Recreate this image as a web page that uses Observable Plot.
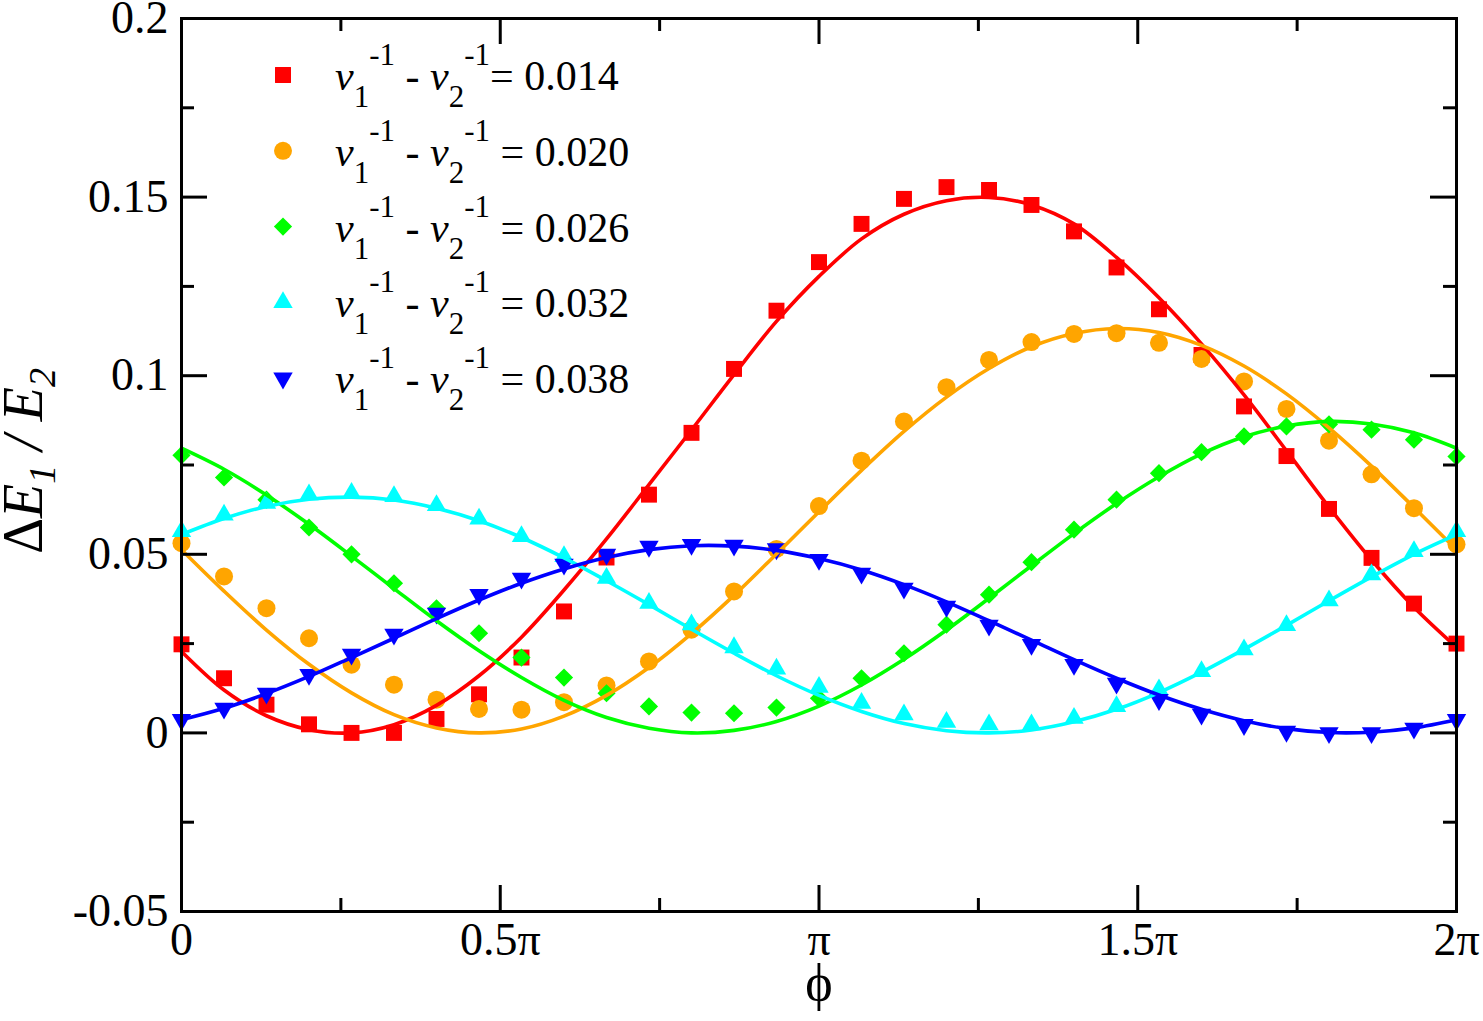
<!DOCTYPE html>
<html><head><meta charset="utf-8">
<script src="https://cdn.jsdelivr.net/npm/d3@7"></script>
<script src="https://cdn.jsdelivr.net/npm/@observablehq/plot@0.6"></script>
<style>
html,body{margin:0;padding:0;background:#fff;}
#chart svg{display:block;}
</style></head><body><div id="chart"></div>
<script>
// phi in units of pi
const phiOverPi = [0, 0.0667, 0.1333, 0.2, 0.2667, 0.3333, 0.4, 0.4667, 0.5333, 0.6, 0.6667, 0.7333, 0.8, 0.8667, 0.9333, 1, 1.0667, 1.1333, 1.2, 1.2667, 1.3333, 1.4, 1.4667, 1.5333, 1.6, 1.6667, 1.7333, 1.8, 1.8667, 1.9333, 2];

const seriesNames = ["0.014", "0.020", "0.026", "0.032", "0.038"];
const seriesColors = ["#ff0000", "#ffa500", "#00ff00", "#00ffff", "#0000ff"];

// simulation points
const pts014 = [0.0248,0.0153,0.0079,0.0024,0.0000,0.0000,0.0039,0.0108,0.0211,0.0340,0.0491,0.0667,0.0840,0.1019,0.1182,0.1318,0.1425,0.1495,0.1528,0.1520,0.1478,0.1404,0.1303,0.1186,0.1058,0.0914,0.0775,0.0627,0.0490,0.0362,0.0250];
const pts020 = [0.0531,0.0438,0.0349,0.0265,0.0191,0.0135,0.0093,0.0067,0.0065,0.0086,0.0133,0.0200,0.0289,0.0396,0.0515,0.0635,0.0762,0.0872,0.0968,0.1044,0.1094,0.1117,0.1119,0.1092,0.1047,0.0984,0.0907,0.0818,0.0724,0.0629,0.0528];
const pts026 = [0.0777,0.0715,0.0653,0.0575,0.0500,0.0419,0.0349,0.0279,0.0211,0.0155,0.0111,0.0074,0.0057,0.0055,0.0071,0.0097,0.0153,0.0223,0.0303,0.0387,0.0478,0.0569,0.0653,0.0727,0.0786,0.0830,0.0858,0.0864,0.0849,0.0821,0.0774];
const pts032 = [0.0564,0.0610,0.0643,0.0667,0.0671,0.0662,0.0637,0.0599,0.0550,0.0494,0.0433,0.0363,0.0303,0.0239,0.0179,0.0128,0.0083,0.0051,0.0030,0.0023,0.0023,0.0041,0.0074,0.0121,0.0172,0.0233,0.0301,0.0370,0.0443,0.0508,0.0564];
const pts038 = [0.0037,0.0069,0.0111,0.0163,0.0220,0.0276,0.0335,0.0387,0.0433,0.0472,0.0500,0.0522,0.0527,0.0525,0.0515,0.0485,0.0447,0.0405,0.0354,0.0301,0.0247,0.0191,0.0139,0.0093,0.0052,0.0023,0.0004,0.0000,0.0000,0.0013,0.0037];

// fitted curves (read at the same phi grid)
const fit014 = [0.0228,0.0120,0.0048,0.0009,0.0000,0.0023,0.0077,0.0160,0.0268,0.0400,0.0543,0.0695,0.0848,0.1003,0.1152,0.1278,0.1383,0.1452,0.1490,0.1499,0.1478,0.1425,0.1331,0.1218,0.1089,0.0946,0.0790,0.0632,0.0484,0.0352,0.0240];
const fit020 = [0.0513,0.0397,0.0288,0.0192,0.0112,0.0051,0.0014,0.0000,0.0011,0.0047,0.0105,0.0183,0.0278,0.0385,0.0501,0.0619,0.0735,0.0844,0.0940,0.1020,0.1081,0.1118,0.1132,0.1121,0.1085,0.1027,0.0949,0.0854,0.0747,0.0631,0.0513];
const fit026 = [0.0797,0.0738,0.0666,0.0584,0.0495,0.0404,0.0314,0.0230,0.0155,0.0091,0.0043,0.0013,0.0000,0.0007,0.0032,0.0075,0.0134,0.0206,0.0288,0.0377,0.0468,0.0558,0.0642,0.0717,0.0781,0.0829,0.0859,0.0872,0.0865,0.0840,0.0797];
const fit032 = [0.0555,0.0600,0.0634,0.0654,0.0660,0.0652,0.0629,0.0594,0.0547,0.0490,0.0426,0.0359,0.0290,0.0223,0.0160,0.0105,0.0060,0.0026,0.0006,0.0000,0.0008,0.0031,0.0066,0.0113,0.0170,0.0234,0.0301,0.0370,0.0437,0.0500,0.0555];
const fit038 = [0.0037,0.0069,0.0110,0.0158,0.0211,0.0265,0.0320,0.0372,0.0419,0.0459,0.0491,0.0513,0.0524,0.0523,0.0511,0.0488,0.0456,0.0415,0.0367,0.0314,0.0260,0.0205,0.0153,0.0106,0.0066,0.0034,0.0012,0.0001,0.0002,0.0014,0.0037];

const xMajorTicks = [0, 0.5, 1, 1.5, 2];
const xMajorLabels = ["0", "0.5\u03C0", "\u03C0", "1.5\u03C0", "2\u03C0"];
const xMinorTicks = [0.25, 0.75, 1.25, 1.75];
const yMajorTicks = [-0.05, 0, 0.05, 0.1, 0.15, 0.2];
const yMajorLabels = ["-0.05", "0", "0.05", "0.1", "0.15", "0.2"];
const yMinorTicks = [-0.025, 0.025, 0.075, 0.125, 0.175];

const ptsList = [pts014, pts020, pts026, pts032, pts038];
const fitList = [fit014, fit020, fit026, fit032, fit038];

const serif = "'Liberation Serif','Times New Roman',serif";
const W = 1483, H = 1021, mL = 181, mR = 27, mT = 18, mB = 110;
const innerW = W - mL - mR, innerH = H - mT - mB;
const majorLen = 26, minorLen = 13;

const downTriangle = {
  draw(ctx, size) {
    const y = Math.sqrt(size / (3 * Math.sqrt(3)));
    ctx.moveTo(0, 2 * y);
    ctx.lineTo(-Math.sqrt(3) * y, -y);
    ctx.lineTo(Math.sqrt(3) * y, -y);
    ctx.closePath();
  }
};
const symbols = [d3.symbolSquare, d3.symbolCircle, d3.symbolDiamond2, d3.symbolTriangle, downTriangle];
const radii = [9, 9, 8.2, 7.2, 7.2];

const points = ptsList.map(arr => arr.map((v, k) => ({phi: phiOverPi[k], v})));
const fits = fitList.map(arr => arr.map((v, k) => ({phi: phiOverPi[k], v})));

const marks = [];
points.forEach((data, i) => {
  marks.push(Plot.dot(data, {x: "phi", y: "v", symbol: symbols[i], r: radii[i], fill: seriesColors[i], stroke: "none"}));
});
fits.forEach((data, i) => {
  marks.push(Plot.line(data, {x: "phi", y: "v", stroke: seriesColors[i], strokeWidth: 3.6, curve: "catmull-rom"}));
});
// inward ticks on all four sides
marks.push(
  Plot.tickX(xMajorTicks, {x: d => d, insetTop: innerH - majorLen, strokeWidth: 3}),
  Plot.tickX(xMinorTicks, {x: d => d, insetTop: innerH - minorLen, strokeWidth: 3}),
  Plot.tickX(xMajorTicks, {x: d => d, insetBottom: innerH - majorLen, strokeWidth: 3}),
  Plot.tickX(xMinorTicks, {x: d => d, insetBottom: innerH - minorLen, strokeWidth: 3}),
  Plot.tickY(yMajorTicks, {y: d => d, insetRight: innerW - majorLen, strokeWidth: 3}),
  Plot.tickY(yMinorTicks, {y: d => d, insetRight: innerW - minorLen, strokeWidth: 3}),
  Plot.tickY(yMajorTicks, {y: d => d, insetLeft: innerW - majorLen, strokeWidth: 3}),
  Plot.tickY(yMinorTicks, {y: d => d, insetLeft: innerW - minorLen, strokeWidth: 3}),
  Plot.frame({stroke: "black", strokeWidth: 3}),
  Plot.axisX(xMajorTicks, {tickSize: 0, tickPadding: 11, fontSize: 46, fontFamily: serif, label: null,
    tickFormat: d => xMajorLabels[xMajorTicks.indexOf(d)]}),
  Plot.axisY(yMajorTicks, {tickSize: 0, tickPadding: 13, fontSize: 46, fontFamily: serif, label: null,
    tickFormat: d => yMajorLabels[yMajorTicks.indexOf(d)]}),
  Plot.text(["\u03D5"], {frameAnchor: "bottom", text: d => d, dy: 88, fontSize: 52, fontFamily: "'Liberation Serif','DejaVu Serif',serif"})
);

const svgEl = Plot.plot({
  width: W, height: H,
  marginLeft: mL, marginRight: mR, marginTop: mT, marginBottom: mB,
  style: {fontFamily: serif, background: "white", overflow: "visible", color: "black"},
  x: {domain: [0, 2]},
  y: {domain: [-0.05, 0.2]},
  marks
});
document.getElementById("chart").appendChild(svgEl);

const svg = d3.select(svgEl);

// y-axis title with subscripts
const yt = svg.append("text")
  .attr("transform", "translate(42,554) rotate(-90)")
  .attr("text-anchor", "start")
  .attr("font-family", serif).attr("font-size", 56).attr("fill", "black")
  .style("white-space", "pre");
yt.append("tspan").text("\u0394");
yt.append("tspan").attr("font-style", "italic").text("E");
yt.append("tspan").attr("font-style", "italic").attr("font-size", 38).attr("dy", 13).text("1");
yt.append("tspan").attr("font-style", "italic").attr("dy", -13).text(" / E");
yt.append("tspan").attr("font-style", "italic").attr("font-size", 38).attr("dy", 13).text("2");

// legend
const lg = svg.append("g").attr("font-family", serif).attr("fill", "black").attr("text-anchor", "start");
const rowY0 = 75, rowStep = 75.8, markerX = 283, textX = 335;
seriesNames.forEach((name, i) => {
  const yc = rowY0 + i * rowStep;
  lg.append("path")
    .attr("d", d3.symbol().type(symbols[i]).size(Math.PI * radii[i] * radii[i])())
    .attr("transform", `translate(${markerX},${yc})`)
    .attr("fill", seriesColors[i]);
  const t = lg.append("text").attr("x", textX).attr("y", yc + 15)
    .attr("text-anchor", "start")
    .attr("font-size", 42).style("white-space", "pre");
  t.append("tspan").attr("font-style", "italic").text("\u03BD");
  t.append("tspan").attr("font-size", 31).attr("dy", 17).text("1");
  t.append("tspan").attr("font-size", 31).attr("dy", -42).text("-1");
  t.append("tspan").attr("dy", 25).text(" - ");
  t.append("tspan").attr("font-style", "italic").text("\u03BD");
  t.append("tspan").attr("font-size", 31).attr("dy", 17).text("2");
  t.append("tspan").attr("font-size", 31).attr("dy", -42).text("-1");
  t.append("tspan").attr("dy", 25).text((i === 0 ? "= " : " = ") + name);
});
</script></body></html>
